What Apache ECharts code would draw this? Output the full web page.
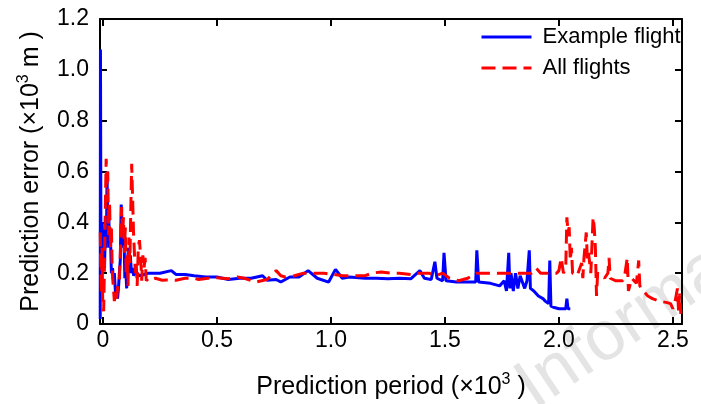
<!DOCTYPE html>
<html><head><meta charset="utf-8">
<script src="https://cdn.jsdelivr.net/npm/echarts@6/dist/echarts.min.js"></script>
<style>html,body{margin:0;padding:0;background:#fff}#c{width:701px;height:404px}</style>
</head><body><div id="c"></div>
<script>
const xTicks = [0, 0.5, 1.0, 1.5, 2.0, 2.5];
const yTicks = [0, 0.2, 0.4, 0.6, 0.8, 1.0, 1.2];
const seriesNames = ['Example flight', 'All flights'];
const xTitle = 'Prediction period (×10{sup|3} )';
const yTitle = 'Prediction error (×10{sup|3} m )';
const watermark = 'Information';

// [prediction period (x10^3), prediction error (x10^3 m)]
const exampleFlight = [
[-0.012,0.02],[-0.011,1.08],[-0.009,0.35],[-0.007,0.25],[-0.004,0.4],[-0.001,0.28],[0.003,0.35],[0.007,0.22],
[0.011,0.42],[0.015,0.3],[0.018,0.6],[0.021,0.35],[0.025,0.45],[0.029,0.3],[0.033,0.34],[0.037,0.2],[0.042,0.22],
[0.046,0.17],[0.05,0.2],[0.055,0.12],[0.06,0.15],[0.064,0.1],[0.068,0.14],[0.072,0.2],[0.076,0.25],[0.08,0.47],
[0.084,0.4],[0.088,0.3],[0.092,0.35],[0.096,0.18],[0.1,0.22],[0.104,0.14],[0.108,0.25],[0.112,0.3],[0.116,0.2],
[0.12,0.27],[0.125,0.2],[0.13,0.22],[0.135,0.19],[0.14,0.2],[0.15,0.2],[0.16,0.19],[0.18,0.195],[0.2,0.2],[0.22,0.2],
[0.25,0.2],[0.3,0.21],[0.32,0.195],[0.36,0.195],[0.4,0.19],[0.45,0.185],[0.5,0.185],[0.55,0.175],[0.6,0.18],
[0.65,0.18],[0.7,0.19],[0.72,0.172],[0.76,0.175],[0.78,0.165],[0.82,0.185],[0.86,0.185],[0.9,0.21],[0.94,0.18],
[0.99,0.165],[1.02,0.215],[1.05,0.18],[1.08,0.185],[1.15,0.18],[1.2,0.18],[1.25,0.178],[1.3,0.18],[1.35,0.178],
[1.39,0.21],[1.41,0.18],[1.44,0.175],[1.456,0.245],[1.465,0.18],[1.49,0.17],[1.496,0.28],[1.505,0.17],[1.55,0.165],
[1.6,0.165],[1.635,0.165],[1.64,0.29],[1.648,0.165],[1.7,0.16],[1.74,0.15],[1.76,0.17],[1.77,0.13],[1.78,0.28],
[1.785,0.14],[1.79,0.2],[1.8,0.13],[1.81,0.2],[1.82,0.14],[1.83,0.19],[1.85,0.14],[1.86,0.17],[1.87,0.29],
[1.875,0.14],[1.89,0.13],[1.91,0.11],[1.93,0.1],[1.94,0.09],[1.955,0.08],[1.96,0.25],[1.965,0.07],[1.98,0.065],
[2.0,0.06],[2.03,0.06],[2.035,0.1],[2.04,0.06],[2.05,0.06]
];

const allFlights = [
[-0.012,0.36],[-0.01,0.25],[-0.007,0.12],[-0.004,0.3],[-0.001,0.08],[0.003,0.05],[0.007,0.25],[0.011,0.5],
[0.014,0.65],[0.018,0.55],[0.021,0.6],[0.025,0.35],[0.029,0.48],[0.033,0.3],[0.037,0.38],[0.041,0.2],[0.046,0.14],
[0.05,0.09],[0.055,0.12],[0.06,0.1],[0.066,0.16],[0.072,0.17],[0.077,0.3],[0.082,0.46],[0.086,0.35],[0.09,0.42],
[0.094,0.28],[0.098,0.38],[0.102,0.2],[0.106,0.27],[0.11,0.15],[0.114,0.34],[0.118,0.24],[0.122,0.45],[0.126,0.63],
[0.13,0.5],[0.134,0.36],[0.138,0.28],[0.142,0.2],[0.146,0.24],[0.15,0.15],[0.155,0.3],[0.16,0.33],[0.165,0.27],
[0.17,0.17],[0.175,0.27],[0.18,0.22],[0.185,0.26],[0.19,0.17],[0.2,0.18],[0.21,0.175],[0.23,0.18],[0.26,0.172],
[0.28,0.173],[0.32,0.172],[0.36,0.18],[0.4,0.18],[0.42,0.175],[0.46,0.18],[0.5,0.182],[0.55,0.178],[0.59,0.185],
[0.62,0.18],[0.67,0.165],[0.72,0.175],[0.76,0.21],[0.78,0.19],[0.8,0.185],[0.84,0.19],[0.88,0.2],[0.92,0.2],
[0.97,0.2],[1.01,0.195],[1.05,0.19],[1.1,0.19],[1.15,0.19],[1.18,0.2],[1.22,0.205],[1.26,0.2],[1.3,0.2],
[1.35,0.195],[1.38,0.2],[1.43,0.2],[1.46,0.19],[1.49,0.2],[1.52,0.18],[1.54,0.175],[1.56,0.17],[1.6,0.18],
[1.64,0.2],[1.7,0.2],[1.75,0.2],[1.8,0.2],[1.85,0.2],[1.88,0.2],[1.9,0.22],[1.92,0.2],[1.96,0.2],[1.99,0.2],
[2.0,0.21],[2.01,0.26],[2.02,0.2],[2.03,0.22],[2.035,0.42],[2.04,0.36],[2.045,0.38],[2.05,0.25],[2.055,0.3],
[2.06,0.2],[2.08,0.19],[2.1,0.24],[2.105,0.18],[2.11,0.26],[2.12,0.36],[2.125,0.25],[2.13,0.28],[2.14,0.2],
[2.15,0.42],[2.155,0.38],[2.16,0.3],[2.165,0.11],[2.17,0.2],[2.19,0.19],[2.2,0.18],[2.215,0.2],[2.22,0.26],
[2.225,0.18],[2.25,0.17],[2.28,0.17],[2.29,0.2],[2.3,0.26],[2.305,0.13],[2.32,0.18],[2.34,0.16],[2.35,0.25],
[2.355,0.15],[2.37,0.13],[2.39,0.11],[2.41,0.1],[2.44,0.09],[2.47,0.085],[2.49,0.08],[2.5,0.06],[2.51,0.09],
[2.52,0.14],[2.525,0.05],[2.53,0.12],[2.535,0.04]
];

const FONT = '"Liberation Sans", Arial, sans-serif';
const fmt = v => (Math.abs(v) < 1e-9 ? '0' : v.toFixed(1));
const axisLine = {show: true, onZero: false, lineStyle: {color: '#000', width: 2}};
const tickStyle = {color: '#000', width: 2};
const nameStyle = {
  fontSize: 25, fontFamily: FONT, color: '#000', lineHeight: 30,
  rich: {sup: {fontSize: 16, fontFamily: FONT, color: '#000', lineHeight: 12, verticalAlign: 'top'}}
};

const chart = echarts.init(document.getElementById('c'), null, {renderer: 'canvas'});
chart.setOption({
  animation: false,
  backgroundColor: '#fff',
  grid: {left: 100, right: 19, top: 19, bottom: 80, containLabel: false, outerBoundsMode: 'none'},
  legend: {
    data: seriesNames, orient: 'vertical', left: 480, top: 26, padding: 0,
    itemWidth: 50, itemHeight: 14, itemGap: 9,
    itemStyle: {opacity: 0},
    lineStyle: {width: 3},
    textStyle: {fontSize: 22, fontFamily: FONT, color: '#000', lineHeight: 22, padding: [0, 0, 0, 6]}
  },
  graphic: [{
    type: 'text', x: 524, y: 394, rotation: 0.59, z: -10, silent: true,
    style: {text: watermark, fontSize: 70, fontFamily: FONT, fill: '#e4e4e4', textVerticalAlign: 'middle'}
  }],
  xAxis: [{
    type: 'value', min: -0.013, max: 2.54, position: 'bottom',
    axisLine: axisLine,
    axisTick: {show: true, inside: true, length: 7, lineStyle: tickStyle, customValues: xTicks},
    axisLabel: {customValues: xTicks, formatter: fmt, fontSize: 23, fontFamily: FONT, color: '#000', margin: 5},
    splitLine: {show: false},
    name: xTitle, nameLocation: 'middle', nameGap: 48, nameTextStyle: nameStyle
  }, {
    type: 'value', min: -0.013, max: 2.54, position: 'top',
    axisLine: axisLine,
    axisTick: {show: true, inside: true, length: 7, lineStyle: tickStyle, customValues: xTicks},
    axisLabel: {show: false}, splitLine: {show: false}
  }],
  yAxis: [{
    type: 'value', min: 0, max: 1.2, interval: 0.2, position: 'left',
    axisLine: axisLine,
    axisTick: {show: true, inside: true, length: 7, lineStyle: tickStyle, customValues: yTicks},
    axisLabel: {customValues: yTicks, formatter: fmt, fontSize: 23, fontFamily: FONT, color: '#000', margin: 11},
    splitLine: {show: false},
    name: yTitle, nameLocation: 'middle', nameGap: 54, nameTextStyle: nameStyle
  }, {
    type: 'value', min: 0, max: 1.2, interval: 0.2, position: 'right',
    axisLine: axisLine,
    axisTick: {show: true, inside: true, length: 7, lineStyle: tickStyle, customValues: yTicks},
    axisLabel: {show: false}, splitLine: {show: false}
  }],
  series: [{
    name: seriesNames[0], type: 'line', data: exampleFlight, symbol: 'none', showSymbol: false, z: 2,
    lineStyle: {color: '#0000ff', width: 3}, itemStyle: {color: '#0000ff'}
  }, {
    name: seriesNames[1], type: 'line', data: allFlights, symbol: 'none', showSymbol: false, z: 3,
    lineStyle: {color: '#ff0000', width: 3, type: [14, 7]}, itemStyle: {color: '#ff0000'}
  }]
});
</script></body></html>
